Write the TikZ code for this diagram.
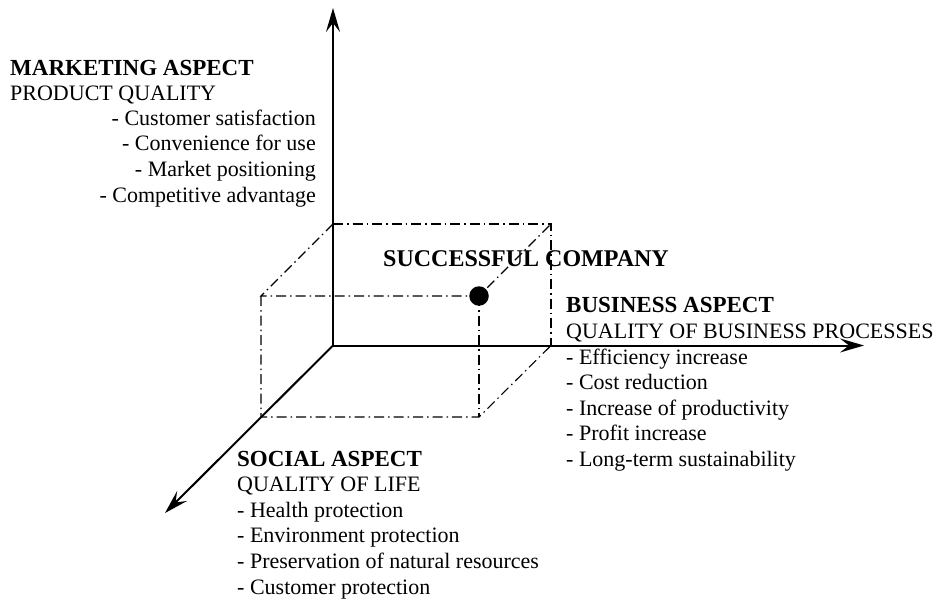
\documentclass[tikz,border=0pt]{standalone}
\usepackage{fontspec}
\setmainfont{Liberation Serif}
\usetikzlibrary{arrows.meta}
\newcommand{\hd}[1]{{\fontsize{23}{25.6}\selectfont\bfseries #1}}
\begin{document}
\begin{tikzpicture}[x=1pt,y=-1pt,
  axis/.style={line width=2pt,-{Stealth[length=24pt,width=14pt,inset=9pt]}},
  guide/.style={line width=1.1pt,dash pattern=on 10pt off 4pt on 1.5pt off 4pt},
  txt/.style={inner sep=0pt,font=\fontsize{22}{25.6}\selectfont}]
\useasboundingbox (0,0) rectangle (943,602);

% axes
\coordinate (O) at (333,345.5);
\coordinate (up) at (333,8);
\coordinate (right) at (864,345.5);
\coordinate (down) at (165,513);
\draw[axis] (O) -- (up);
\draw[axis] (O) -- (right);
\draw[axis] (O) -- (down);

% dash-dotted box
\coordinate (btl) at (333,224);
\coordinate (btr) at (551,224);
\coordinate (bbr) at (551,345.5);
\coordinate (ftl) at (261,296);
\coordinate (fbl) at (261,417);
\coordinate (fbr) at (479,417);
\node[circle,fill=black,minimum size=19.5pt,inner sep=0pt] (dot) at (479,296) {};
\draw[guide] (btl) -- (btr) -- (bbr);
\draw[guide] (btl) -- (ftl) -- (dot.center) -- (btr);
\draw[guide] (ftl) -- (fbl) -- (fbr) -- (bbr);
\draw[guide] (dot.center) -- (fbr);

% labels (multi-line nodes are anchored at the baseline of their last line)
\node[inner sep=0pt,anchor=base west,font=\fontsize{24}{26}\selectfont\bfseries] (success) at (383,266.7) {SUCCESSFUL COMPANY};

\node[txt,anchor=base west,align=left] (mkhead) at (10,100.7)
  {\hd{MARKETING ASPECT}\\PRODUCT QUALITY};
\node[txt,anchor=base east,align=right] (mklist) at (316,202)
  {- Customer satisfaction\\- Convenience for use\\- Market positioning\\- Competitive advantage};

\node[txt,anchor=base west,align=left] (business) at (566,466.5)
  {\hd{BUSINESS ASPECT}\\QUALITY OF BUSINESS PROCESSES\\- Efficiency increase\\- Cost reduction\\- Increase of productivity\\- Profit increase\\- Long-term sustainability};

\node[txt,anchor=base west,align=left] (social) at (237,594)
  {\hd{SOCIAL ASPECT}\\QUALITY OF LIFE\\- Health protection\\- Environment protection\\- Preservation of natural resources\\- Customer protection};
\end{tikzpicture}
\end{document}
